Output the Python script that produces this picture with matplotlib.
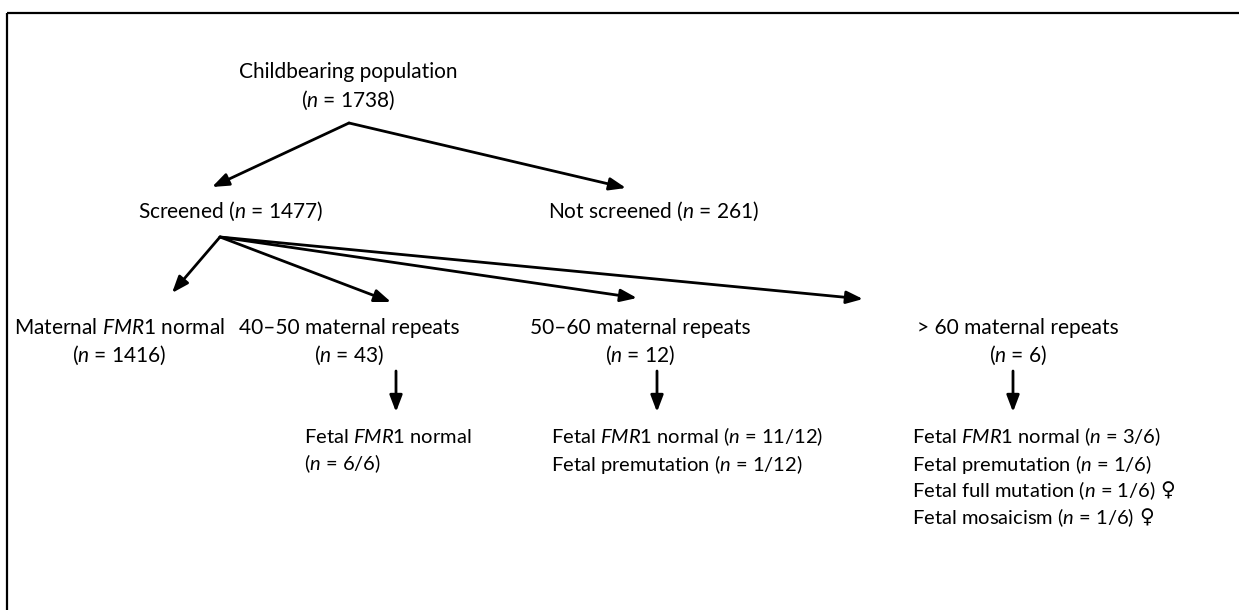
import matplotlib
matplotlib.use("Agg")
import matplotlib.pyplot as plt

plt.rcParams['font.family'] = ['Lato', 'DejaVu Sans']
plt.rcParams['mathtext.fontset'] = 'custom'
plt.rcParams['mathtext.it'] = 'Lato:italic'
plt.rcParams['mathtext.rm'] = 'Lato'

N = r"$\mathit{n}$"
G = r"$\mathit{FMR1}$"

# data
root_label = "Childbearing population"
root_n = 1738
screen_labels = ["Screened", "Not screened"]
screen_n = [1477, 261]
group_labels = ["Maternal " + G + " normal", "40\u201350 maternal repeats",
                "50\u201360 maternal repeats", "> 60 maternal repeats"]
group_n = [1416, 43, 12, 6]
fetal_43 = [("Fetal " + G + " normal", "6/6")]
fetal_12 = [("Fetal " + G + " normal", "11/12"), ("Fetal premutation", "1/12")]
fetal_6 = [("Fetal " + G + " normal", "3/6"), ("Fetal premutation", "1/6"),
           ("Fetal full mutation", "1/6"), ("Fetal mosaicism", "1/6")]
female_mark = [False, False, True, True]

fig = plt.figure(figsize=(12.39, 6.10), dpi=100)
ax = fig.add_axes([0, 0, 1, 1])
ax.set_xlim(0, 1239)
ax.set_ylim(610, 0)
ax.axis('off')

FS = 15
FS2 = 14.5
def txt(x, y, s, ha='center', fs=FS):
    return ax.text(x, y, s, ha=ha, va='center', fontsize=fs, color='black')

def arrow(x0, y0, x1, y1):
    ax.annotate('', xy=(x1, y1), xytext=(x0, y0),
                arrowprops=dict(arrowstyle='-|>,head_length=1.0,head_width=0.38',
                                lw=2, color='black', shrinkA=0, shrinkB=0))

# border
ax.plot([7, 1239], [13, 13], color='black', lw=1.6, solid_capstyle='butt')
ax.plot([7, 7], [13, 610], color='black', lw=1.6, solid_capstyle='butt')

# root
txt(348, 72, root_label)
txt(348, 100, "(" + N + " = %d)" % root_n)
arrow(349, 123, 212, 187)
arrow(349, 123, 626, 188)

# screened
txt(138, 211, "%s (" % screen_labels[0] + N + " = %d)" % screen_n[0], ha='left')
txt(548, 211, "%s (" % screen_labels[1] + N + " = %d)" % screen_n[1], ha='left')

# fan
fan_tips = [(172, 293), (391, 302), (637, 298), (863, 299)]
for tx, ty in fan_tips:
    arrow(220, 237, tx, ty)

group_x = [119, 349, 640, 1018]
for gx, lab, n in zip(group_x, group_labels, group_n):
    txt(gx, 328, lab)
    txt(gx, 355, "(" + N + " = %d)" % n)

# vertical arrows
for vx in [396, 657, 1013]:
    arrow(vx, 371, vx, 412)

# fetal outcomes
txt(304, 437, fetal_43[0][0], ha='left', fs=FS2)
txt(304, 464, "(" + N + " = %s)" % fetal_43[0][1], ha='left', fs=FS2)

for i, (lab, v) in enumerate(fetal_12):
    txt(551, 437 + 27 * i, lab + " (" + N + " = %s)" % v, ha='left', fs=FS2)

fig.canvas.draw()
inv = ax.transData.inverted()
for i, ((lab, v), fm) in enumerate(zip(fetal_6, female_mark)):
    s = lab + " (" + N + " = %s)" % v
    t = txt(912, 437 + 27 * i, s, ha='left', fs=FS2)
    if fm:
        fig.canvas.draw()
        bb = t.get_window_extent()
        xr = inv.transform((bb.x1, bb.y0))[0]
        ax.text(xr + 5, 437 + 27 * i, "\u2640", ha='left', va='center',
                fontsize=FS2, fontweight='bold', family=['DejaVu Sans'])

fig.savefig("out.png", dpi=100)
